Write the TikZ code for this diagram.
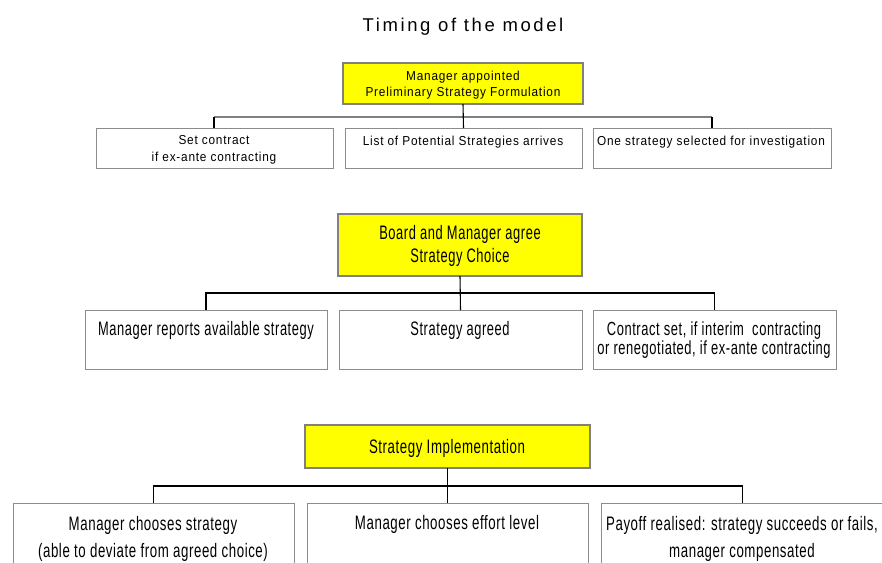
\documentclass[tikz,border=0pt]{standalone}
\usepackage{fontspec}
\setmainfont{Liberation Sans}
\newfontfamily\fTitle[LetterSpace=14]{Liberation Sans}
\newfontfamily\fSmall[FakeStretch=0.91,LetterSpace=6]{Liberation Sans}
\newfontfamily\fBig[FakeStretch=0.68,LetterSpace=3]{Liberation Sans}
\newfontfamily\fBigN[FakeStretch=0.66,LetterSpace=3]{Liberation Sans}
\definecolor{boxgray}{HTML}{8C8C8C}
\definecolor{ybord}{HTML}{808080}
\definecolor{yfill}{HTML}{FFFF00}
\tikzset{
  ybox/.style={draw=ybord,line width=2.8pt,fill=yfill,anchor=north west,inner sep=0pt,outer sep=0pt},
  wbox/.style={draw=boxgray,line width=0.8pt,fill=white,anchor=north west,inner sep=0pt,outer sep=0pt},
  txtS/.style={font=\fSmall\fontsize{13}{16.5}\selectfont,align=center,anchor=base,inner sep=0pt},
  txtB/.style={font=\fBig\fontsize{19.5}{22.5}\selectfont,align=center,anchor=base,inner sep=0pt},
  txtN/.style={font=\fBigN\fontsize{19.5}{22.5}\selectfont,align=center,anchor=base,inner sep=0pt},
  glink/.style={draw=gray,line width=1.6pt},
  blink/.style={draw=black,line width=1.1pt}
}
\begin{document}
\begin{tikzpicture}[x=1pt,y=-1pt]
\useasboundingbox (0,0) rectangle (882,562);
\clip (0,0) rectangle (882,562);
\fill[white] (0,0) rectangle (882,562);
% title
\node[font=\fTitle\fontsize{18.5}{22}\selectfont,anchor=base,inner sep=0pt] (title) at (463,31) {Timing of the model};
% ---------- level 1
\node[ybox,minimum width=240,minimum height=41] (y1) at (343,63) {};
\node[txtS] (y1t) at (463,96.7) {Manager appointed\\Preliminary Strategy Formulation};
\node[wbox,minimum width=237,minimum height=40] (a1) at (96,128) {};
\node[wbox,minimum width=237,minimum height=40] (b1) at (345,128) {};
\node[wbox,minimum width=238,minimum height=40] (c1) at (593,128) {};
\node[txtS] (a1t) at (214,161) {Set contract\\if ex-ante contracting};
\node[txtS] (b1t) at (463,145) {List of Potential Strategies arrives};
\node[txtS] (c1t) at (711,145) {One strategy selected for investigation};
\coordinate (h1l) at (214,117);
\coordinate (h1r) at (712,117);
\draw[glink] (h1l) -- (h1r);
\draw[blink] (y1.south) -- (b1.north);
\draw[blink] (h1l) -- (h1l |- a1.north);
\draw[blink] (h1r) -- (h1r |- c1.north);
% ---------- level 2
\node[ybox,minimum width=244,minimum height=62] (y2) at (338,214) {};
\node[txtN] (y2t) at (460,262.3) {Board and Manager agree\\Strategy Choice};
\node[wbox,minimum width=242,minimum height=59] (a2) at (85,310) {};
\node[wbox,minimum width=243,minimum height=59] (b2) at (339,310) {};
\node[wbox,minimum width=243,minimum height=59] (c2) at (593,310) {};
\node[txtN] (a2t) at (206,335) {Manager reports available strategy};
\node[txtN] (b2t) at (460,335) {Strategy agreed};
\node[txtB,font=\fBig\fontsize{19}{17.5}\selectfont] (c2t) at (714,354) {Contract set, if interim\ \ contracting\\or renegotiated, if ex-ante contracting};
\draw[blink] (y2.south) -- (b2.north);
\draw[blink] (a2.north) -- ++(0,-17) -| (c2.north);
% ---------- level 3
\node[ybox,minimum width=285,minimum height=43] (y3) at (305,425) {};
\node[txtB] (y3t) at (447,453) {Strategy Implementation};
\node[wbox,minimum width=281,minimum height=80] (a3) at (13,503) {};
\node[wbox,minimum width=281,minimum height=80] (b3) at (307,503) {};
\node[wbox,minimum width=283,minimum height=80] (c3) at (601,503) {};
\node[txtB,font=\fBig\fontsize{19.5}{27}\selectfont] (a3t) at (153,557) {Manager chooses strategy\\(able to deviate from agreed choice)};
\node[txtB] (b3t) at (447,529) {Manager chooses effort level};
\node[txtB,font=\fBig\fontsize{19.5}{27}\selectfont] (c3t) at (742,557) {Payoff realised: strategy succeeds or fails,\\manager compensated};
\draw[blink] (y3.south) -- (b3.north);
\draw[blink] (a3.north) -- ++(0,-17) -| (c3.north);
\end{tikzpicture}
\end{document}
